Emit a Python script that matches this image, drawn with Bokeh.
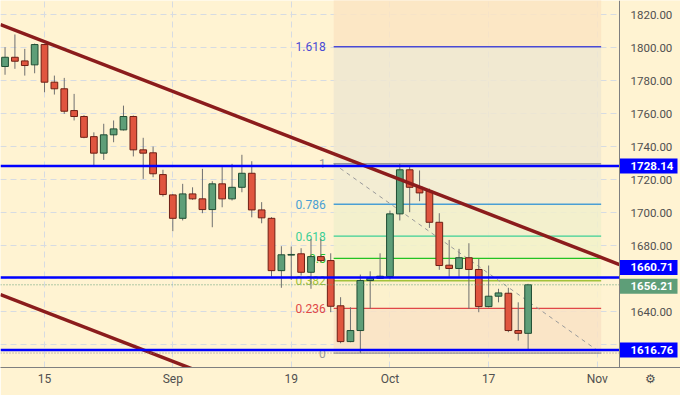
import numpy as np
from bokeh.plotting import figure
from bokeh.models import (ColumnDataSource, BoxAnnotation, FixedTicker,
                          SingleIntervalTicker, NumeralTickFormatter)
from bokeh.core.properties import value
from bokeh.embed import file_html
from bokeh.resources import INLINE

# ---------------- data ----------------
dates = ["Aug 9", "Aug 10", "Aug 11", "Aug 12", "Aug 15", "Aug 16", "Aug 17", "Aug 18", "Aug 19",
         "Aug 22", "Aug 23", "Aug 24", "Aug 25", "Aug 26", "Aug 29", "Aug 30", "Aug 31", "Sep 1",
         "Sep 2", "Sep 5", "Sep 6", "Sep 7", "Sep 8", "Sep 9", "Sep 12", "Sep 13", "Sep 14",
         "Sep 15", "Sep 16", "Sep 19", "Sep 20", "Sep 21", "Sep 22", "Sep 23", "Sep 26", "Sep 27",
         "Sep 28", "Sep 29", "Sep 30", "Oct 3", "Oct 4", "Oct 5", "Oct 6", "Oct 7", "Oct 10",
         "Oct 11", "Oct 12", "Oct 13", "Oct 14", "Oct 17", "Oct 18", "Oct 19", "Oct 20", "Oct 21"]
opens = [1788.5, 1794.1, 1791.9, 1789.5, 1801.8, 1779.0, 1775.0, 1761.8, 1758.2,
         1746.0, 1736.0, 1747.1, 1750.1, 1758.2, 1738.0, 1736.2, 1723.0, 1710.7,
         1696.5, 1711.3, 1708.3, 1701.8, 1717.4, 1708.3, 1715.3, 1723.8, 1701.6,
         1696.5, 1664.8, 1674.2, 1675.0, 1663.8, 1673.3, 1670.9, 1643.5, 1621.8,
         1628.5, 1658.8, 1660.2, 1661.2, 1699.2, 1725.9, 1715.3, 1712.9, 1694.1,
         1668.1, 1666.1, 1672.6, 1665.5, 1643.0, 1649.3, 1651.1, 1628.5, 1626.8]
highs = [1800.2, 1807.9, 1799.2, 1802.4, 1802.2, 1783.0, 1781.6, 1771.9, 1759.0,
         1748.6, 1753.8, 1755.8, 1764.8, 1758.8, 1745.3, 1740.0, 1725.9, 1711.2,
         1717.4, 1715.3, 1726.5, 1719.0, 1727.5, 1729.5, 1735.0, 1731.1, 1706.3,
         1697.2, 1679.6, 1679.4, 1678.4, 1684.0, 1684.0, 1675.3, 1648.7, 1642.6,
         1662.4, 1664.4, 1675.3, 1701.2, 1729.58, 1728.5, 1725.5, 1714.5, 1699.6,
         1683.4, 1678.0, 1681.4, 1671.9, 1667.9, 1653.8, 1654.4, 1645.6, 1656.8]
lows = [1783.5, 1787.1, 1783.0, 1784.4, 1772.9, 1771.5, 1759.8, 1755.8, 1745.0,
        1728.5, 1731.9, 1742.6, 1749.7, 1734.0, 1720.4, 1721.4, 1709.7, 1688.7,
        1695.2, 1707.7, 1699.6, 1691.1, 1703.2, 1707.3, 1712.3, 1697.1, 1693.5,
        1661.2, 1654.4, 1659.2, 1661.8, 1653.8, 1669.7, 1639.6, 1620.8, 1621.4,
        1614.85, 1641.6, 1659.8, 1659.5, 1695.2, 1700.2, 1706.9, 1690.7, 1665.3,
        1661.2, 1661.2, 1641.6, 1639.6, 1642.5, 1645.6, 1627.5, 1622.4, 1616.8]
closes = [1794.1, 1791.7, 1789.1, 1801.8, 1779.0, 1775.0, 1761.4, 1758.2, 1745.6,
          1736.0, 1747.1, 1750.7, 1758.2, 1738.0, 1736.0, 1723.5, 1710.9, 1696.5,
          1711.3, 1708.3, 1701.8, 1717.4, 1708.3, 1715.3, 1723.8, 1701.6, 1696.8,
          1664.8, 1674.4, 1674.6, 1663.8, 1673.3, 1670.9, 1643.2, 1621.8, 1628.5,
          1658.8, 1660.2, 1661.4, 1699.2, 1725.9, 1715.3, 1711.9, 1694.1, 1667.9,
          1666.1, 1672.6, 1665.5, 1643.0, 1649.3, 1651.3, 1628.5, 1626.8, 1656.21]
first_index = -4  # bar index of the first candle (Aug 15 = 0)

tick_positions = [0, 13, 25, 35, 45, 56]
tick_labels = ["15", "Sep", "19", "Oct", "17", "Nov"]

level_lines = [1728.14, 1660.71, 1616.76]
last_price = 1656.21

fib_low = 1614.85
fib_high = 1729.58
fib_ratios = [0, 0.236, 0.382, 0.5, 0.618, 0.786, 1, 1.618, 2.618]
fib_labels = ["0", "0.236", "0.382", "0.5", "0.618", "0.786", "1", "1.618"]
fib_x = [29.3, 56.4]

trend_upper_x = [-4.46, 58.26]
trend_upper_y = [1813.9, 1668.5]
trend_lower_x = [-4.46, 20.0]
trend_lower_y = [1650.3, 1593.6]

# ---------------- layout / styles ----------------
W, H = 680, 395
AXIS_W = 61          # price-scale strip on the right (px)
BOTTOM_H = 28
chart_x = (-4.46, 58.26)
CHART_W = W - AXIS_W
px_per_bar = CHART_W / (chart_x[1] - chart_x[0])
x_end = chart_x[1] + AXIS_W / px_per_bar
y_range = (1606.1, 1828.5)
px_per_unit = (H - BOTTOM_H) / (y_range[1] - y_range[0])

BG = "#fff3d2"
RED_FILL, RED_LINE = "#e0553f", "#6e1f14"
GREEN_FILL, GREEN_LINE = "#5e9e78", "#1f4d33"
WICK = "#6f6f6f"
BLUE = "#0000ff"
TREND = "#8b1c1c"
AXIS_TXT = "#505050"
fib_line_colors = ["#9a9a9a", "#e04848", "#a3c23a", "#22c322", "#3ccf96", "#4a9fd4", "#9a9a9a", "#4a4ad4"]
fib_fill_colors = ["#f9e2c6", "#fbf0cc", "#f5f1c6", "#f2f1c9", "#f1efcd", "#f1ebd3", "#efe6d1", "#fbe4c3"]

p = figure(width=W, height=H, x_range=(chart_x[0], x_end), y_range=y_range,
           y_axis_location="right", toolbar_location=None, output_backend="svg",
           min_border_left=0, min_border_top=0, min_border_right=0,
           min_border_bottom=BOTTOM_H)
p.background_fill_color = BG
p.border_fill_color = BG
p.outline_line_color = None

# y axis: pinned at the edge of the chart area, labels in the price strip
yt = SingleIntervalTicker(interval=20, num_minor_ticks=0)
p.yaxis.ticker = yt
p.ygrid.ticker = yt
p.yaxis.fixed_location = chart_x[1]
p.yaxis.formatter = NumeralTickFormatter(format="0.00")
p.yaxis.major_label_overrides = {1660: "", 1620: ""}
p.yaxis.major_label_standoff = 11
p.yaxis.axis_line_color = "#7f7f7f"

# x axis (plus the settings icon under the price strip)
gear_x = chart_x[1] + (AXIS_W / 2) / px_per_bar
p.xaxis.ticker = FixedTicker(ticks=tick_positions + [gear_x])
p.xgrid.ticker = FixedTicker(ticks=tick_positions)
overrides = {t: l for t, l in zip(tick_positions, tick_labels)}
overrides[gear_x] = "\u2699"
p.xaxis.major_label_overrides = overrides
p.xaxis.axis_line_color = "#7f7f7f"
p.xaxis.major_label_standoff = 4

for ax in (p.xaxis, p.yaxis):
    ax.major_tick_line_color = None
    ax.minor_tick_line_color = None
    ax.major_tick_out = 0
    ax.major_tick_in = 0
    ax.minor_tick_out = 0
    ax.major_label_text_color = AXIS_TXT
    ax.major_label_text_font = "Roboto"
p.yaxis.major_label_text_font_size = "11.5px"
p.xaxis.major_label_text_font_size = "12px"
p.grid.grid_line_color = "#d6dbe2"
p.grid.grid_line_dash = "6 4"
p.grid.grid_line_width = 1

# price strip background (covers grid)
p.add_layout(BoxAnnotation(left=chart_x[1], fill_color=BG, fill_alpha=1,
                           line_color=None, level="underlay"))

# fib retracement
fib_levels = [fib_low + r * (fib_high - fib_low) for r in fib_ratios]
p.quad(left=fib_x[0], right=fib_x[1], bottom=fib_levels[:-1], top=fib_levels[1:],
       fill_color=fib_fill_colors, fill_alpha=0.85, line_color=None)
lv = fib_levels[:-1]
p.segment(x0=[fib_x[0]] * len(lv), x1=[fib_x[1]] * len(lv), y0=lv, y1=lv,
          line_color=fib_line_colors, line_width=1.3)
p.line(fib_x, [fib_high, fib_low], line_color="#9a9a9a", line_dash="4 4", line_width=1)
p.text(x=[fib_x[0]] * len(lv), y=lv, text=fib_labels, text_align="right",
       text_baseline="middle", x_offset=-8, text_color=fib_line_colors,
       text_font=value("Roboto"), text_font_size="12px")

# candles
xs = list(range(first_index, first_index + len(opens)))
o = np.array(opens); c = np.array(closes)
up = c >= o
src = ColumnDataSource(dict(
    x=xs, high=highs, low=lows,
    top=np.maximum(o, c), bottom=np.minimum(o, c),
    fill=[GREEN_FILL if u else RED_FILL for u in up],
    line=[GREEN_LINE if u else RED_LINE for u in up],
))
p.segment(x0="x", x1="x", y0="low", y1="high", source=src, line_color=WICK, line_width=1)
p.vbar(x="x", width=0.68, top="top", bottom="bottom", source=src,
       fill_color="fill", line_color="line", line_width=1)

# trend lines
p.line(trend_upper_x, trend_upper_y, line_color=TREND, line_width=3.5)
p.line(trend_lower_x, trend_lower_y, line_color=TREND, line_width=3.5)

# horizontal levels (chart area only)
p.segment(x0=chart_x[0], x1=chart_x[1], y0=fib_low, y1=fib_low,
          line_color="#8a8a8a", line_dash="1 2", line_width=1)
p.segment(x0=chart_x[0], x1=chart_x[1], y0=last_price, y1=last_price,
          line_color="#5e9e78", line_dash="1 2", line_width=1)
p.segment(x0=[chart_x[0]] * 3, x1=[chart_x[1]] * 3, y0=level_lines, y1=level_lines,
          line_color=BLUE, line_width=2.5)

# price boxes on the price strip (overlapping tags are pushed apart, as on the source chart)
box_vals = level_lines + [last_price]
box_cols = [BLUE, BLUE, BLUE, "#5e9e78"]
box_shift_px = [0, 10, 0, -1.5]
box_y = [v + s / px_per_unit for v, s in zip(box_vals, box_shift_px)]
box_w = (AXIS_W - 3) / px_per_bar
p.rect(x=[chart_x[1] + box_w / 2] * 4, y=box_y, width=box_w, height=15,
       height_units="screen", fill_color=box_cols, line_color=None)
p.text(x=[chart_x[1]] * 4, y=box_y, text=[f"{v:.2f}" for v in box_vals],
       x_offset=11, text_align="left", text_baseline="middle", text_color="white",
       text_font_style="bold", text_font=value("Roboto"), text_font_size="11.5px")

open("out.html", "w").write(file_html(p, INLINE))
